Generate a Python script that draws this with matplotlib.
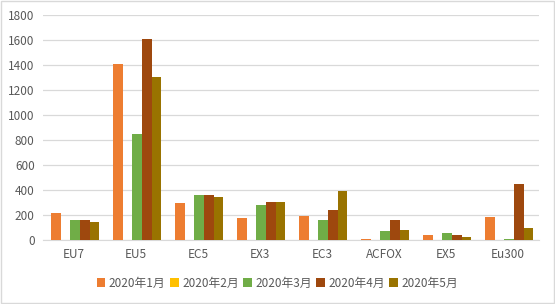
import matplotlib
matplotlib.use("Agg")
import matplotlib.pyplot as plt
import numpy as np

plt.rcParams['font.family'] = ['Noto Sans CJK SC', 'DejaVu Sans']

categories = ["EU7", "EU5", "EC5", "EX3", "EC3", "ACFOX", "EX5", "Eu300"]
series_names = ["2020年1月", "2020年2月", "2020年3月", "2020年4月", "2020年5月"]
jan = [220, 1408, 299, 176, 192, 8, 40, 184]
feb = [0, 0, 0, 0, 0, 0, 0, 0]
mar = [160, 848, 360, 280, 160, 72, 56, 8]
apr = [160, 1608, 360, 304, 240, 160, 40, 448]
may = [147, 1304, 344, 304, 392, 80, 24, 96]
colors = ["#ED7D31", "#FFC000", "#70AD47", "#9E480E", "#997300"]

fig = plt.figure(figsize=(5.55, 3.04), dpi=100)
ax = fig.add_axes([43 / 555, (304 - 240) / 304, 496 / 555, 225 / 304])

x = np.arange(len(categories))
width = 0.156
for i, (vals, name, c) in enumerate(zip([jan, feb, mar, apr, may], series_names, colors)):
    ax.bar(x + (i - 2) * width + 0.02, vals, width, color=c, label=name, zorder=3)

ax.set_xlim(-0.5, len(categories) - 0.5)
ax.set_ylim(0, 1800)
ax.set_yticks(range(0, 1801, 200))
ax.set_xticks(x)
ax.set_xticklabels(categories)
ax.yaxis.grid(True, color="#d9d9d9", linewidth=0.9, zorder=0)
for s in ["top", "right", "left"]:
    ax.spines[s].set_visible(False)
ax.spines["bottom"].set_color("#d9d9d9")
ax.tick_params(axis="both", length=0, labelsize=8.5, colors="#595959", pad=6)

leg = fig.legend(handles=ax.get_legend_handles_labels()[0], labels=series_names,
                 loc="center", bbox_to_anchor=(0.5, 21 / 304), ncol=5, frameon=False,
                 fontsize=8.5, handlelength=0.7, handleheight=0.7, handletextpad=0.3,
                 columnspacing=0.4, labelcolor="#595959")

fig.patches.append(plt.Rectangle((0.001, 0.002), 0.997, 0.995, transform=fig.transFigure,
                                 fill=False, edgecolor="#d9d9d9", linewidth=1))
fig.savefig("out.png", dpi=100)
